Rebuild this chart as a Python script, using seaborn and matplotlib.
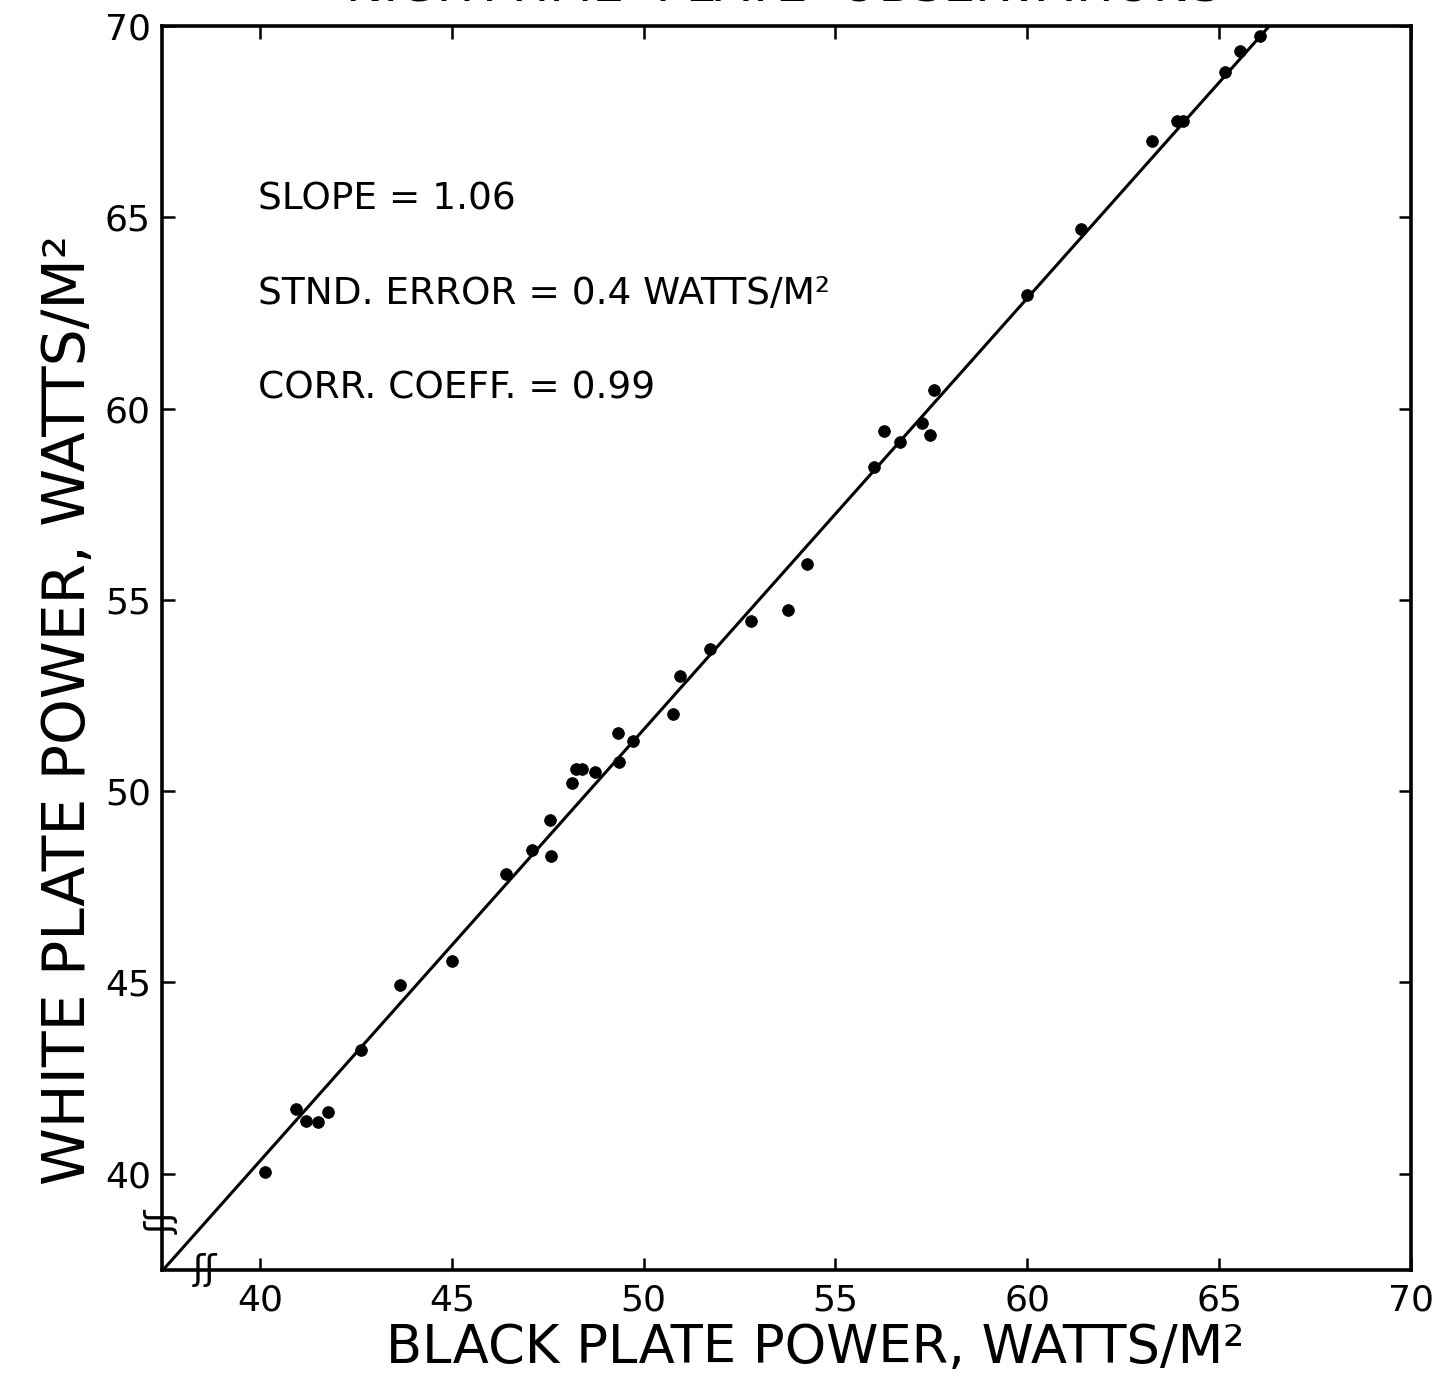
import pandas as pd
import matplotlib
matplotlib.use("Agg")
import matplotlib.pyplot as plt
import seaborn as sns

# black plate vs white plate power readings (W/m^2)
black_power = [40.13, 40.93, 41.19, 41.51, 41.77, 42.64, 43.64, 45.01, 46.41, 47.10,
               47.56, 47.58, 48.14, 48.25, 48.40, 48.74, 49.33, 49.37, 49.72, 50.76,
               50.94, 51.74, 52.81, 53.77, 54.26, 56.00, 56.26, 56.67, 57.25, 57.47,
               57.56, 60.00, 61.40, 63.25, 63.90, 64.05, 65.15, 65.54, 66.06]
white_power = [40.03, 41.68, 41.37, 41.35, 41.60, 43.23, 44.93, 45.56, 47.83, 48.46,
               49.24, 48.31, 50.20, 50.57, 50.57, 50.51, 51.51, 50.75, 51.32, 52.02,
               53.01, 53.72, 54.45, 54.74, 55.94, 58.48, 59.42, 59.14, 59.62, 59.31,
               60.49, 62.97, 64.70, 67.01, 67.51, 67.53, 68.81, 69.36, 69.74]

# regression line as drawn on the original
fit_black = [37.45, 66.3]
fit_white = [37.45, 70.0]

ticks = [40, 45, 50, 55, 60, 65, 70]
stats_lines = ["SLOPE = 1.06", "STND. ERROR = 0.4 WATTS/M²", "CORR. COEFF. = 0.99"]

df = pd.DataFrame({"black": black_power, "white": white_power})
fit = pd.DataFrame({"black": fit_black, "white": fit_white})

sns.set_style("ticks")
plt.rcParams["font.family"] = ["DejaVu Sans"]
plt.rcParams.update({"text.color": "black", "axes.labelcolor": "black",
                     "xtick.color": "black", "ytick.color": "black",
                     "axes.edgecolor": "black"})

fig = plt.figure(figsize=(14.39, 13.75), dpi=100)
ax = fig.add_axes([0.1126, 0.0764, 0.868, 0.9045])

sns.lineplot(data=fit, x="black", y="white", color="black", linewidth=2.2, ax=ax)
sns.scatterplot(data=df, x="black", y="white", color="black", s=70, edgecolor="black", ax=ax)

ax.set_xlim(37.45, 70)
ax.set_ylim(37.48, 70)
ax.set_xticks(ticks)
ax.set_yticks(ticks)
ax.tick_params(direction="in", length=9, width=1.8, labelsize=26, pad=8,
               top=True, right=True)
ax.tick_params(axis="x", pad=10)
for sp in ax.spines.values():
    sp.set_visible(True)
    sp.set_linewidth(2.6)

ax.set_xlabel("BLACK PLATE POWER, WATTS/M²", fontsize=38)
ax.set_ylabel("WHITE PLATE POWER, WATTS/M²", fontsize=42)
ax.xaxis.set_label_coords(0.523, -0.042)
ax.yaxis.set_label_coords(-0.052, 0.45)

# stats block
for i, txt in enumerate(stats_lines):
    ax.text(0.077, 0.861 - i * 0.076, txt, transform=ax.transAxes,
            fontsize=27, va="center", ha="left")

# axis break marks near the origin
ax.text(38.57, 37.48, "ʃʃ", fontsize=26, ha="center", va="center", clip_on=False)
ax.text(37.45, 38.73, "ʃʃ", fontsize=26, ha="center", va="center", rotation=90, clip_on=False)

# title, cropped off the top of the scan
fig.text(0.545, 1.009, "NIGHTTIME  PLATE  OBSERVATIONS", fontsize=36, ha="center", va="center")

fig.savefig("out.png", dpi=100)
